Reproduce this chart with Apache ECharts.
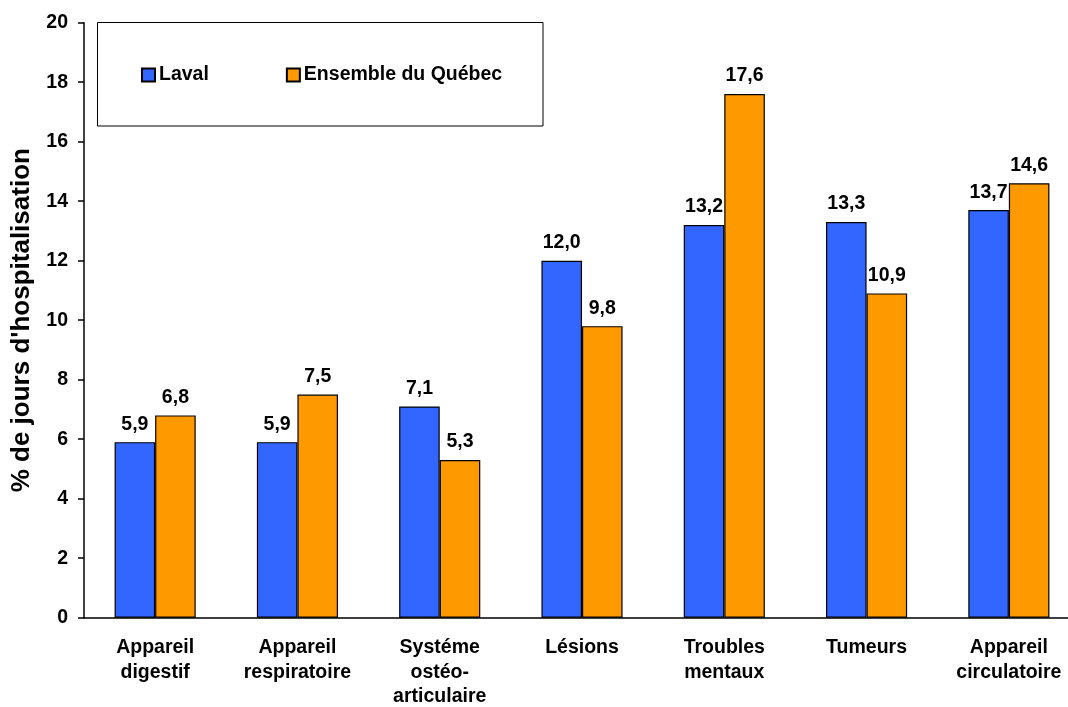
<!DOCTYPE html>
<html><head><meta charset="utf-8">
<script src="https://cdn.jsdelivr.net/npm/echarts@6/dist/echarts.min.js"></script>
<style>html,body{margin:0;padding:0;background:#fff}#c{width:1068px;height:707px}</style>
</head><body><div id="c"></div>
<script>
const categories = ['Appareil\ndigestif', 'Appareil\nrespiratoire', 'Systéme\nostéo-\narticulaire', 'Lésions', 'Troubles\nmentaux', 'Tumeurs', 'Appareil\ncirculatoire'];
const laval = [5.9, 5.9, 7.1, 12.0, 13.2, 13.3, 13.7];
const quebec = [6.8, 7.5, 5.3, 9.8, 17.6, 10.9, 14.6];
const seriesNames = ['Laval', 'Ensemble du Québec'];
const yTitle = "% de jours d'hospitalisation";

const FONT = 'Liberation Sans, Arial, sans-serif';
const FS = 19.5;
const chart = echarts.init(document.getElementById('c'), null, {renderer: 'canvas'});
const lbl = {
  show: true, position: 'top', distance: 8,
  fontFamily: FONT, fontWeight: 'bold', fontSize: FS, color: '#000',
  formatter: p => p.value.toFixed(1).replace('.', ',')
};
chart.setOption({
  animation: false,
  backgroundColor: '#fff',
  grid: {left: 84, right: -12, top: 22.7, bottom: 89.3, outerBoundsMode: 'none', containLabel: false},
  graphic: [{
    type: 'rect', shape: {x: 97.5, y: 22.5, width: 445.5, height: 103.5},
    style: {fill: '#fff', stroke: '#000', lineWidth: 1}, z: 0
  }],
  legend: {
    left: 136, top: 60, itemWidth: 13, itemHeight: 13, itemGap: 77,
    icon: 'rect',
    textStyle: {fontFamily: FONT, fontWeight: 'bold', fontSize: FS, color: '#000', padding: [0,0,0,-1]},
    data: seriesNames
  },
  xAxis: {
    type: 'category', data: categories,
    axisLine: {lineStyle: {color: '#000', width: 1.5}},
    axisTick: {show: false},
    axisLabel: {fontFamily: FONT, fontWeight: 'bold', fontSize: FS, color: '#000', lineHeight: 24.5, margin: 18, interval: 0}
  },
  yAxis: {
    type: 'value', min: 0, max: 20, interval: 2,
    name: yTitle, nameLocation: 'middle', nameRotate: 90, nameGap: 49,
    nameTextStyle: {fontFamily: FONT, fontWeight: 'bold', fontSize: 26, color: '#000'},
    splitLine: {show: false},
    axisLine: {show: true, lineStyle: {color: '#000', width: 1.5}},
    axisTick: {show: true, length: 6, lineStyle: {color: '#000', width: 1.5}},
    axisLabel: {fontFamily: FONT, fontWeight: 'bold', fontSize: FS, color: '#000', margin: 16}
  },
  series: [
    {name: seriesNames[0], type: 'bar', data: laval, barWidth: '28.5%', barGap: '0%',
     itemStyle: {color: '#3366FF', borderColor: '#000', borderWidth: 1.2}, label: lbl},
    {name: seriesNames[1], type: 'bar', data: quebec, barWidth: '28.5%', barGap: '0%',
     itemStyle: {color: '#FF9900', borderColor: '#000', borderWidth: 1.2}, label: lbl}
  ]
});
</script></body></html>
